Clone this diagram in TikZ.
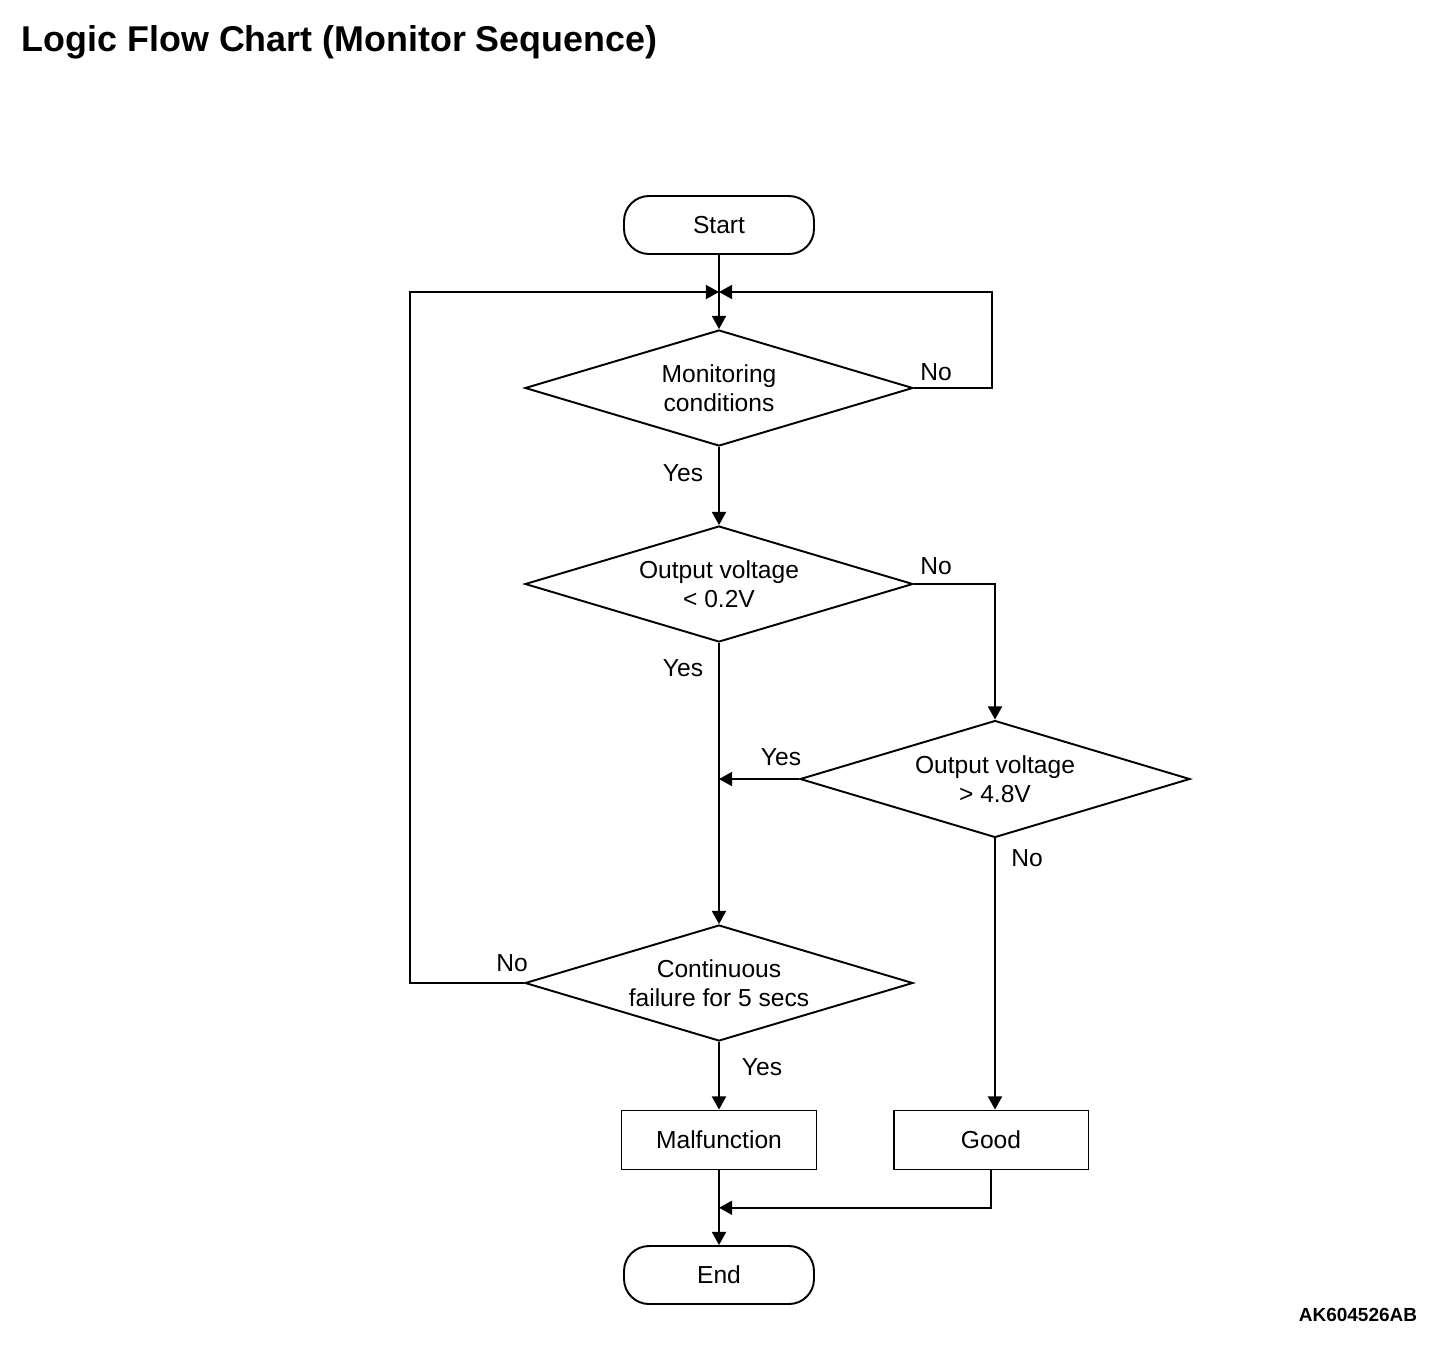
\documentclass[tikz,border=0pt]{standalone}
\usepackage{fontspec}
\setmainfont{Liberation Sans}
\usetikzlibrary{arrows.meta,shapes,calc}

\begin{document}
\begin{tikzpicture}[x=0.02cm, y=-0.02cm, line width=1.1pt, font=\fontsize{14}{16.5}\selectfont,
term node/.style={draw, rectangle, rounded corners=0.5cm, minimum width=3.8cm, minimum height=1.16cm, inner sep=0pt},
box node/.style={draw, rectangle, minimum width=3.9cm, minimum height=1.18cm, inner sep=0pt},
decision node/.style={draw, diamond, shape aspect=3.3, minimum width=7.76cm, minimum height=2.32cm, inner sep=0pt, align=center},
label node/.style={inner sep=0pt},
arr/.style={-{Triangle[length=7.5pt,width=8pt]}}]
\useasboundingbox (0,0) rectangle (1456,1346);
\node[anchor=base west, inner sep=0pt, font=\bfseries\fontsize{20.4}{24}\selectfont] (title) at (21,51) {Logic Flow Chart (Monitor Sequence)};
\node[anchor=base east, inner sep=0pt, font=\bfseries\fontsize{10.8}{12}\selectfont] (code) at (1418,1321) {AK604526AB};

\node[term node] (start) at (719,225) {Start};
\node[decision node] (mon) at (719,388) {Monitoring\\conditions};
\node[decision node] (low) at (719,584) {Output voltage\\< 0.2V};
\node[decision node, minimum width=7.8cm, minimum height=2.34cm] (high) at (995,779) {Output voltage\\> 4.8V};
\node[decision node] (cont) at (719,983) {Continuous\\failure for 5 secs};
\node[box node] (mal) at (719,1140) {Malfunction};
\node[box node] (good) at (991,1140) {Good};
\node[term node] (end) at (719,1275) {End};

\coordinate (merge) at (719,292);
\coordinate (lcorner) at (410,292);
\coordinate (rcorner) at (992,292);

% labels
\node[label node] (mon no) at (936,372) {No};
\node[label node] (mon yes) at (683,473) {Yes};
\node[label node] (low no) at (936,566) {No};
\node[label node] (low yes) at (683,668) {Yes};
\node[label node] (high yes) at (781,757) {Yes};
\node[label node] (high no) at (1027,858) {No};
\node[label node] (cont no) at (512,963) {No};
\node[label node] (cont yes) at (762,1067) {Yes};

% connectors
\draw[arr] (start) -- (mon);
\draw[arr] (mon.east) -| (rcorner) -- (merge);
\draw[arr] (cont.west) -| (lcorner) -- (merge);
\draw[arr] (mon) -- (low);
\draw[arr] (low.east) -| (high.north);
\draw[arr] (low) -- (cont);
\draw[arr] (high.west) -- (high.west -| cont.north);
\draw[arr] (high.south) -- (high.south |- good.north);
\draw[arr] (cont) -- (mal);
\draw[arr] (mal) -- (end);
\draw[arr] (good.south) |- ($(mal.south)!.5!(end.north)$);
\end{tikzpicture}
\end{document}
